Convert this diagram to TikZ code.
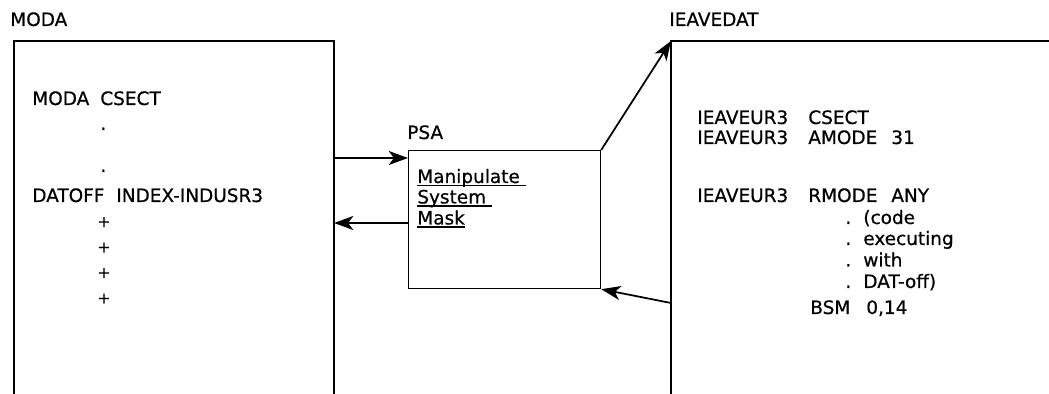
\documentclass[tikz,border=0pt]{standalone}
\usepackage{fontspec}
\setmainfont[FakeBold=0.6]{DejaVu Sans}
\usetikzlibrary{arrows.meta, positioning}
\newcommand\ulword[1]{\sbox0{#1}\rlap{\rule[-1.8pt]{\wd0}{0.7pt}}\usebox0}

\begin{document}
\begin{tikzpicture}[x=0.02cm, y=-0.02cm,
  txt/.style={anchor=base west, inner sep=0pt, font=\fontsize{10.5}{12}\selectfont},
  plus/.style={anchor=base west, inner sep=0pt, font=\fontsize{9}{10}\selectfont},
  frame/.style={draw=black, line width=0.7pt},
  arr/.style={-{Stealth[length=11pt,width=8pt,inset=3pt]}, line width=1pt}
]
\useasboundingbox (0,0) rectangle (1049,394);

% MODA
\node[txt] (modaLbl) at (10,26) {MODA};
\draw[frame] (14,394) -- (14,41) -- (334,41) -- (334,394);
\node[txt] (modaName) at (32,105) {MODA};
\node[txt] (modaCsect) at (100,105) {CSECT};
\foreach \y in {130,172} {
  \node[txt] at (100,\y) {.};
}
\node[txt] (datoff) at (32,202) {DATOFF};
\node[txt] (datoffArg) at (116,202) {INDEX-INDUSR3};
\foreach \y in {227,252.5,278,303.5} {
  \node[plus] at (97,\y) {+};
}

% PSA
\node[txt] (psaLbl) at (407,139) {PSA};
\node[frame, anchor=north west, inner sep=0pt,
      minimum width=3.84cm, minimum height=2.76cm] (psa) at (408,150) {};
\node[txt] (manip) at (417,183) {\ulword{Manipulate\ }};
\node[txt] (sys) at (417,203.5) {\ulword{System\ }};
\node[txt] (mask) at (417,224.5) {\ulword{Mask}};

% IEAVEDAT
\node[txt] (datLbl) at (669,26) {IEAVEDAT};
\draw[frame] (671,394) -- (671,41) -- (1049,41);
\foreach \y/\op in {124/CSECT, 144/AMODE, 202/RMODE} {
  \node[txt] at (697,\y) {IEAVEUR3};
  \node[txt] at (808,\y) {\op};
}
\node[txt] (amodeArg) at (891,144) {31};
\node[txt] (rmodeArg) at (891,202) {ANY};
\foreach \y/\t in {224/{(code}, 245/executing, 266.5/with, 288/DAT-off)} {
  \node[txt] at (845,\y) {.};
  \node[txt] at (863,\y) {\t};
}
\node[txt] (bsm) at (810,314) {BSM};
\node[txt] (bsmArg) at (866,314) {0,14};

% connectors
\coordinate (modaA) at (334,158);
\coordinate (modaB) at (334,223);
\coordinate (datTop) at (671,41);
\coordinate (datB) at (671,303);
\draw[arr] (modaA) -- (modaA -| psa.west);
\draw[arr] (modaB -| psa.west) -- (modaB);
\draw[arr] (psa.north east) -- (datTop);
\draw[arr] (datB) -- (psa.south east);
\end{tikzpicture}
\end{document}
